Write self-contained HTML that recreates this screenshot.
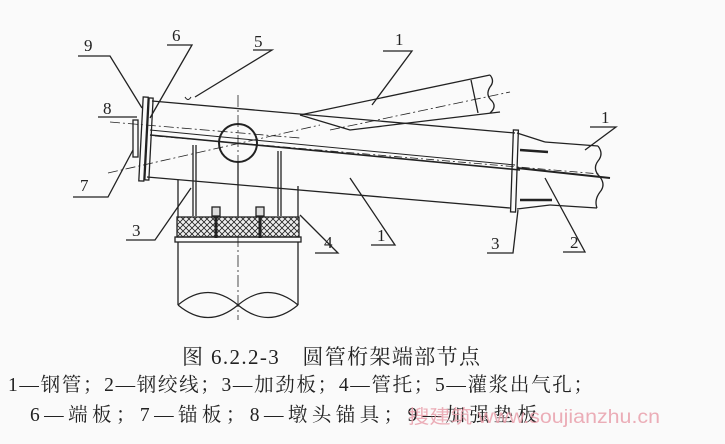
<!DOCTYPE html>
<html><head><meta charset="utf-8"><style>
body{margin:0;background:#fafafa;}
svg{display:block}
text{font-family:"Liberation Serif","Noto Serif CJK SC",serif;fill:#222}
</style></head><body>
<svg width="725" height="444" viewBox="0 0 725 444" xmlns="http://www.w3.org/2000/svg">
<rect width="725" height="444" fill="#fafafa"/>
<defs>
<pattern id="hx" width="6" height="6" patternUnits="userSpaceOnUse">
<rect width="6" height="6" fill="#eee"/>
<path d="M0 0L6 6M6 0L0 6" stroke="#222" stroke-width="0.8"/>
</pattern>
</defs>
<g stroke="#222" stroke-width="1.3" fill="none">
<path d="M152 101 L515 133"/>
<path d="M147 177 L510 208"/>
<path d="M150 130 L515 165" stroke-width="1"/>
<path d="M150 135 L520 170" stroke-width="1.6"/>
<path d="M155 136 L600 174" stroke-dasharray="8 3 2 3" stroke-width="0.8"/>
<path d="M110 122 L300 138" stroke-dasharray="10 3 2 3" stroke-width="0.8"/>
<path d="M108 173 L320 125" stroke-dasharray="10 3 2 3" stroke-width="0.8"/>
<path d="M185 97 q3 5 6 0" stroke-width="1"/>
<rect x="512" y="130" width="5" height="82" transform="rotate(2 514 170)"/>
<path d="M517 133 L545 142 M517 209 L550 205"/>
<path d="M545 142 L598 146 M550 205 L597 208"/>
<path d="M598 146 q6 8 0 15 q-6 8 2 16 q6 8 0 15 q-6 8 -3 16"/>
<path d="M520 150 L548 152 M520 200 L552 200" stroke-width="2.5"/>
<path d="M517 168 L610 178" stroke-width="2"/>
<path d="M300 115 L490 75"/>
<path d="M300 115 L350 130 L500 112"/>
<path d="M490 75 q5 6 0 12 q-5 8 2 14 q5 6 -2 12"/>
<path d="M471 80 L478 113"/>
<path d="M330 130 L510 92" stroke-dasharray="10 3 2 3" stroke-width="0.8"/>
<rect x="141" y="97" width="5" height="84" transform="rotate(3 143 139)"/>
<rect x="147" y="98" width="4" height="82" transform="rotate(3 149 139)"/>
<rect x="133" y="120" width="5" height="37"/>
<circle cx="238" cy="143" r="19" stroke-width="2"/>
<path d="M238 95 L238 320" stroke-dasharray="12 3 2 3" stroke-width="0.8"/>
<path d="M178 180 L178 217 M298 186 L298 217"/>
<path d="M193 145 L193 216 M196 145 L196 216 M278 151 L278 216 M281 151 L281 216"/>
<path d="M238 162 L238 216"/>
<rect x="177" y="217" width="122" height="20" fill="url(#hx)"/>
<rect x="175" y="237" width="126" height="5"/>
<rect x="212" y="207" width="8" height="9" fill="#ddd"/>
<rect x="256" y="207" width="8" height="9" fill="#ddd"/>
<path d="M216 217 L216 238 M260 217 L260 238" stroke-width="3"/>
<path d="M178 242 L178 305 M298 242 L298 305"/>
<path d="M178 305 q30 -25 60 0 q30 25 60 0 M178 305 q30 25 60 0 M238 305 q30 -25 60 0" stroke-width="1.2"/>
<path d="M78 56 L110 56 L142 108"/>
<path d="M167 45 L192 45 L150 118"/>
<path d="M253 50 L272 50 L195 97"/>
<path d="M383 51 L412 51 L372 105"/>
<path d="M590 127 L616 127 L585 150"/>
<path d="M98 117 L137 117"/>
<path d="M73 197 L108 197 L133 150"/>
<path d="M126 240 L155 240 L191 188"/>
<path d="M315 253 L338 253 L300 215"/>
<path d="M371 245 L395 245 L350 178"/>
<path d="M487 253 L513 253 L518 210"/>
<path d="M563 252 L585 252 L545 178"/>
</g>
<g font-size="17">
<text x="84" y="51">9</text>
<text x="172" y="41">6</text>
<text x="254" y="47">5</text>
<text x="395" y="45">1</text>
<text x="601" y="123">1</text>
<text x="103" y="114">8</text>
<text x="80" y="191">7</text>
<text x="132" y="236">3</text>
<text x="324" y="248">4</text>
<text x="377" y="241">1</text>
<text x="491" y="249">3</text>
<text x="570" y="248">2</text>
</g>
<text x="182" y="364" font-size="21" textLength="298" lengthAdjust="spacing">图 6.2.2-3　圆管桁架端部节点</text>
<text x="8" y="391" font-size="19.5" textLength="585" lengthAdjust="spacing">1—钢管；2—钢绞线；3—加劲板；4—管托；5—灌浆出气孔；</text>
<text x="30" y="421" font-size="19.5" textLength="507" lengthAdjust="spacing">6—端板；7—锚板；8—墩头锚具；9—加强垫板</text>
<text x="408" y="423" font-size="19" textLength="252" lengthAdjust="spacingAndGlyphs" style="fill:#e9a0ac;font-family:'Liberation Sans','Noto Sans CJK SC',sans-serif" opacity="0.85">搜建筑 www.soujianzhu.cn</text>
</svg>
</body></html>
